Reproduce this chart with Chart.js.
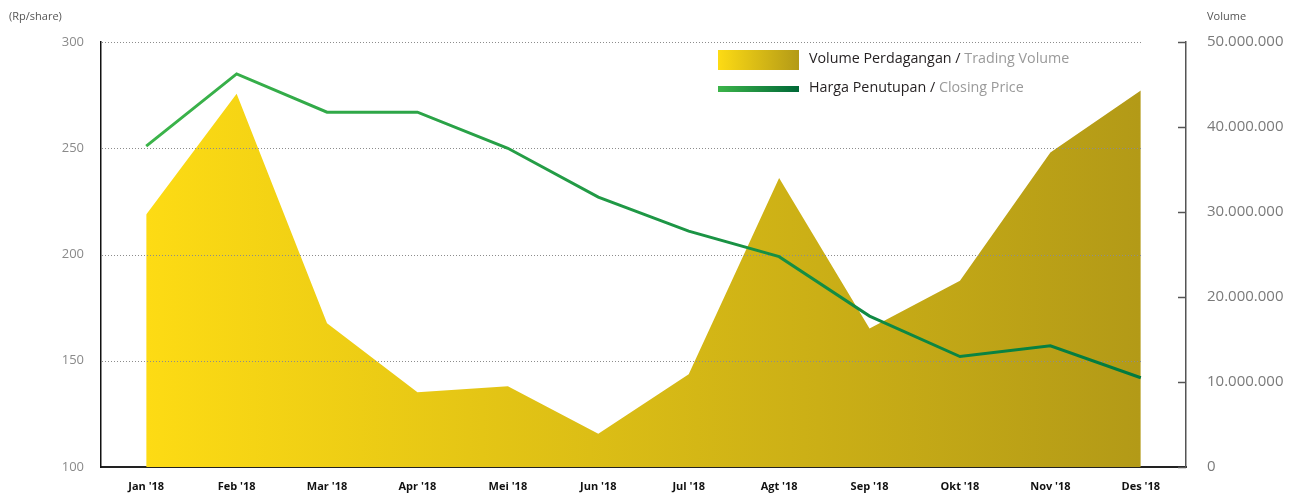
<!DOCTYPE html>
<html>
<head>
<meta charset="utf-8">
<script src="https://cdn.jsdelivr.net/npm/chart.js@4/dist/chart.umd.min.js"></script>
<style>
  body { margin: 0; background: #fff; }
  #wrap { width: 1295px; height: 497px; position: relative; }
</style>
</head>
<body>
<div id="wrap"><canvas id="Chart"></canvas></div>
<script>
// data
const months = ["Jan '18", "Feb '18", "Mar '18", "Apr '18", "Mei '18", "Jun '18", "Jul '18", "Agt '18", "Sep '18", "Okt '18", "Nov '18", "Des '18"];
const tradingVolume = [29700000, 43900000, 16900000, 8800000, 9500000, 3900000, 10900000, 34000000, 16300000, 21900000, 37000000, 44300000];
const closingPrice = [251, 285, 267, 267, 250, 227, 211, 199, 171, 152, 157, 142];
const priceTicks = [100, 150, 200, 250, 300];
const volumeTicks = [0, 10000000, 20000000, 30000000, 40000000, 50000000];

// 50000000 -> 50.000.000
function dotted(n) {
    return String(n).replace(/\B(?=(\d{3})+(?!\d))/g, '.');
}

// horizontal gradient between first and last month
function monthGradient(chart, c1, c2) {
    const x = chart.scales.x;
    if (!x || !chart.chartArea) return c1;
    const g = chart.ctx.createLinearGradient(x.getPixelForValue(0), 0, x.getPixelForValue(months.length - 1), 0);
    g.addColorStop(0, c1);
    g.addColorStop(1, c2);
    return g;
}

// dotted gridlines over the area, stopping at the last month
const gridOverArea = {
    id: 'gridOverArea',
    afterDatasetDraw(chart, args) {
        if (args.index !== 0) return;
        const ctx = chart.ctx;
        const y = chart.scales.y;
        const xEnd = chart.scales.x.getPixelForValue(months.length - 1) + 2;
        ctx.save();
        ctx.strokeStyle = '#8c8c8c';
        ctx.lineWidth = 1;
        ctx.setLineDash([1, 2]);
        priceTicks.slice(1).forEach(v => {
            const py = Math.round(y.getPixelForValue(v)) + 0.5;
            ctx.beginPath();
            ctx.moveTo(chart.chartArea.left + 1, py);
            ctx.lineTo(xEnd, py);
            ctx.stroke();
        });
        ctx.restore();
    }
};

// axis titles, inward ticks on right axis, legend
const decorations = {
    id: 'decorations',
    afterDraw(chart) {
        const ctx = chart.ctx;
        const area = chart.chartArea;
        const y1 = chart.scales.y1;
        ctx.save();

        // tick marks pointing into the chart on the volume axis
        ctx.strokeStyle = '#555';
        ctx.lineWidth = 1.5;
        volumeTicks.forEach(v => {
            const py = Math.round(y1.getPixelForValue(v)) + 0.5;
            ctx.beginPath();
            ctx.moveTo(area.right - 8, py);
            ctx.lineTo(area.right, py);
            ctx.stroke();
        });

        // axis titles
        ctx.fillStyle = '#555';
        ctx.font = '11px "Open Sans"';
        ctx.textBaseline = 'middle';
        ctx.textAlign = 'left';
        ctx.fillText('(Rp/share)', 9, 17);
        ctx.fillText('Volume', 1207, 17);

        // legend
        const lx = 718;
        let g = ctx.createLinearGradient(lx, 0, lx + 81, 0);
        g.addColorStop(0, '#fddb14');
        g.addColorStop(1, '#b39a17');
        ctx.fillStyle = g;
        ctx.fillRect(lx, 50, 81, 20);

        g = ctx.createLinearGradient(lx, 0, lx + 81, 0);
        g.addColorStop(0, '#3cb44a');
        g.addColorStop(1, '#006837');
        ctx.fillStyle = g;
        ctx.fillRect(lx, 86, 81, 6);

        ctx.font = '14.3px "Open Sans"';
        const rows = [
            ['Volume Perdagangan / ', 'Trading Volume', 59],
            ['Harga Penutupan / ', 'Closing Price', 88]
        ];
        rows.forEach(r => {
            ctx.fillStyle = '#231f20';
            ctx.fillText(r[0], 809, r[2]);
            const w = ctx.measureText(r[0]).width;
            ctx.fillStyle = '#9a9a9a';
            ctx.fillText(r[1], 809 + w, r[2]);
        });
        ctx.restore();
    }
};

function renderChart() {
    const ctx = document.getElementById('Chart').getContext('2d');
    new Chart(ctx, {
        type: 'line',
        data: {
            labels: months,
            datasets: [{
                label: 'Volume Perdagangan / Trading Volume',
                data: tradingVolume,
                yAxisID: 'y1',
                fill: 'start',
                borderWidth: 0,
                pointRadius: 0,
                tension: 0,
                order: 1,
                backgroundColor: c => monthGradient(c.chart, '#fddb14', '#b39a17')
            }, {
                label: 'Harga Penutupan / Closing Price',
                data: closingPrice,
                yAxisID: 'y',
                fill: false,
                borderWidth: 3,
                pointRadius: 0,
                tension: 0,
                order: 0,
                borderColor: c => monthGradient(c.chart, '#3cb44a', '#007a40')
            }]
        },
        options: {
            responsive: true,
            maintainAspectRatio: false,
            animation: false,
            layout: { padding: { top: 42, left: 0, right: 0, bottom: 0 } },
            plugins: {
                legend: { display: false },
                tooltip: { enabled: false }
            },
            scales: {
                x: {
                    offset: true,
                    grid: { display: false, drawTicks: false },
                    border: { display: true, color: '#222', width: 2 },
                    ticks: {
                        padding: 13,
                        color: '#111',
                        font: { family: '"Open Sans"', size: 11, weight: 'bold' },
                        maxRotation: 0,
                        autoSkip: false
                    },
                    afterFit: s => { s.height = 28; }
                },
                y: {
                    position: 'left',
                    min: 100,
                    max: 300,
                    grid: { drawOnChartArea: false, drawTicks: false },
                    border: { display: true, color: '#111', width: 1.5 },
                    ticks: {
                        stepSize: 50,
                        padding: 17,
                        color: '#8a8a8a',
                        font: { family: '"Open Sans"', size: 13 }
                    },
                    afterFit: s => { s.width = 101; }
                },
                y1: {
                    position: 'right',
                    min: 0,
                    max: 50000000,
                    grid: { drawOnChartArea: false, drawTicks: false },
                    border: { display: true, color: '#555', width: 1.5 },
                    ticks: {
                        stepSize: 10000000,
                        padding: 21,
                        color: '#7a7a7a',
                        font: { family: '"Open Sans"', size: 15 },
                        callback: v => dotted(v)
                    },
                    afterFit: s => { s.width = 109; }
                }
            }
        },
        plugins: [gridOverArea, decorations]
    });
}

renderChart();
</script>
</body>
</html>
